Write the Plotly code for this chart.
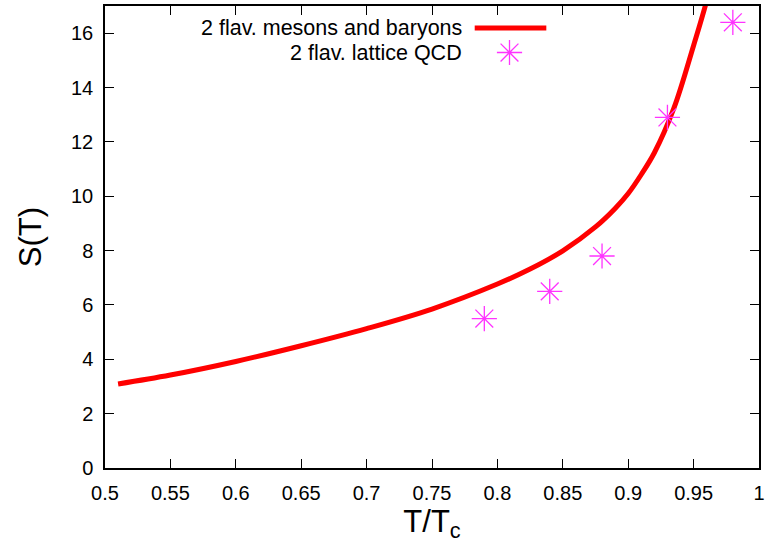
import plotly.graph_objects as go

# ---- data ----
model_T = [0.51, 0.55, 0.60, 0.65, 0.70, 0.75, 0.80, 0.825, 0.85, 0.875,
           0.89, 0.90, 0.91, 0.92, 0.935, 0.95, 0.96, 0.966]
model_S = [3.09, 3.42, 3.92, 4.50, 5.13, 5.85, 6.77, 7.32, 7.99, 8.87,
           9.55, 10.1, 10.8, 11.6, 13.25, 15.55, 17.2, 18.5]

lattice_T = [0.79, 0.84, 0.88, 0.93, 0.98]
lattice_S = [5.5, 6.5, 7.8, 12.9, 16.4]

x_tickvals = [0.5, 0.55, 0.6, 0.65, 0.7, 0.75, 0.8, 0.85, 0.9, 0.95, 1.0]
x_ticktext = ["0.5", "0.55", "0.6", "0.65", "0.7", "0.75", "0.8", "0.85", "0.9", "0.95", "1"]
y_tickvals = [0, 2, 4, 6, 8, 10, 12, 14, 16]

legend_labels = ["2 flav. mesons and baryons", "2 flav. lattice QCD"]

RED = "#ff0000"
MAG = "#ff33ff"
FONT = "Liberation Sans, Arial, Helvetica, sans-serif"

fig = go.Figure()

fig.add_trace(go.Scatter(
    x=model_T, y=model_S, mode="lines",
    line=dict(color=RED, width=5, shape="spline", smoothing=1.0),
    showlegend=False, hoverinfo="skip"))

fig.add_trace(go.Scatter(
    x=lattice_T, y=lattice_S, mode="markers",
    marker=dict(symbol="asterisk-open", size=21, color=MAG,
                line=dict(color=MAG, width=1.3)),
    showlegend=False, hoverinfo="skip"))

# legend samples drawn on an invisible overlay axis (0..1 == plot area)
fig.add_trace(go.Scatter(
    x=[0.5653, 0.6748], y=[0.9526, 0.9526], mode="lines",
    line=dict(color=RED, width=5), xaxis="x2", yaxis="y2",
    showlegend=False, hoverinfo="skip"))
fig.add_trace(go.Scatter(
    x=[0.6185], y=[0.8993], mode="markers",
    marker=dict(symbol="asterisk-open", size=21, color=MAG,
                line=dict(color=MAG, width=1.3)),
    xaxis="x2", yaxis="y2", showlegend=False, hoverinfo="skip"))

annotations = [
    dict(text=legend_labels[0], x=0.549, y=0.9526, xref="paper", yref="paper",
         xanchor="right", yanchor="middle", showarrow=False,
         font=dict(family=FONT, size=21.5, color="black")),
    dict(text=legend_labels[1], x=0.549, y=0.8993, xref="paper", yref="paper",
         xanchor="right", yanchor="middle", showarrow=False,
         font=dict(family=FONT, size=21.5, color="black")),
]

axis_common = dict(
    showgrid=False, zeroline=False, showline=True, linecolor="black",
    linewidth=1.5, mirror="allticks", ticks="inside", ticklen=9,
    tickwidth=1.3, tickcolor="black",
    tickfont=dict(family=FONT, size=20, color="black"),
)

fig.update_layout(
    width=769, height=548,
    margin=dict(l=105, r=6, t=4, b=80),
    paper_bgcolor="white", plot_bgcolor="white",
    font=dict(family=FONT, color="black"),
    xaxis=dict(range=[0.5, 1.0], tickvals=x_tickvals, ticktext=x_ticktext,
               ticklabelstandoff=6,
               title=dict(text="T/T<sub>c</sub>", font=dict(family=FONT, size=31),
                          standoff=6),
               **axis_common),
    yaxis=dict(range=[0, 17], tickvals=y_tickvals, ticklabelstandoff=6,
               title=dict(text="S(T)", font=dict(family=FONT, size=31),
                          standoff=20),
               **axis_common),
    xaxis2=dict(range=[0, 1], overlaying="x", visible=False, fixedrange=True),
    yaxis2=dict(range=[0, 1], overlaying="y", visible=False, fixedrange=True),
    annotations=annotations,
    showlegend=False,
)

fig.write_html("out.html")
